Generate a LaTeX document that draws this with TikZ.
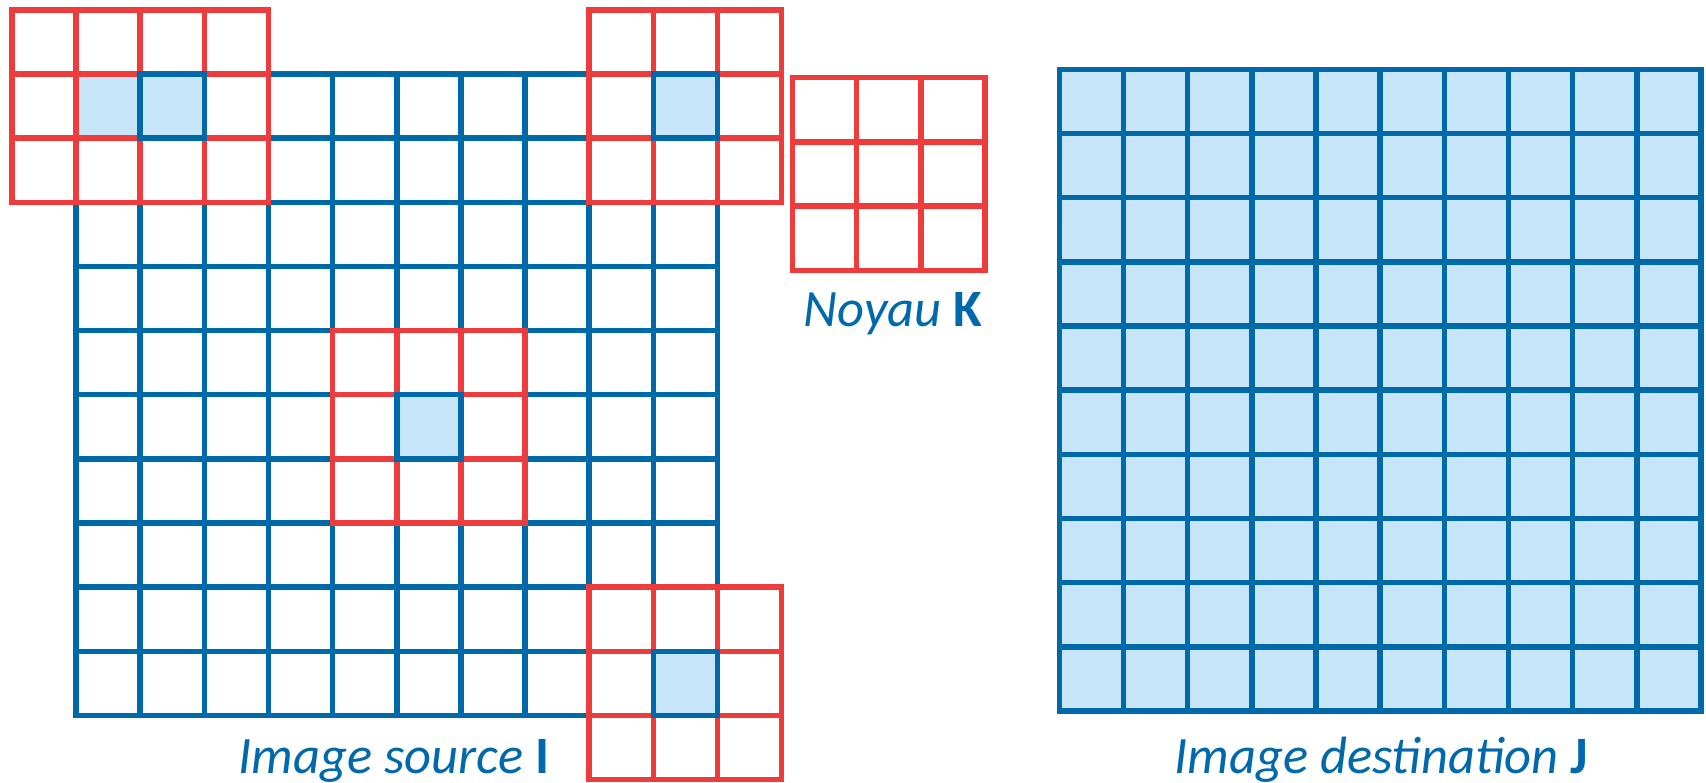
\documentclass[tikz,border=0pt]{standalone}
\usepackage{fontspec}
\setmainfont{Carlito}
\definecolor{gridblue}{HTML}{0069AA}
\definecolor{cellfill}{HTML}{C8E6FA}
\definecolor{kred}{HTML}{EE3B3B}
\definecolor{textblue}{HTML}{0068AD}
\tikzset{
  gridline/.style={draw=gridblue, line width=5.5pt, line cap=rect},
  kernelline/.style={draw=kred, line width=5.5pt, line cap=rect},
  caption/.style={text=textblue, inner sep=0pt, anchor=base, font=\fontsize{52.5}{63}\selectfont}
}
% cell size and origin of the source image grid
\def\cs{64.15}
\def\ox{76}
\def\oy{74}
% red 3-row kernel window: #1 first column, #2 first row, #3 number of columns
\newcommand\kwindow[3]{%
  \foreach \k in {0,...,#3}{
    \draw[kernelline] ({\ox+(#1+\k)*\cs},{\oy+(#2)*\cs}) -- ({\ox+(#1+\k)*\cs},{\oy+(#2+3)*\cs});
  }
  \foreach \k in {0,...,3}{
    \draw[kernelline] ({\ox+(#1)*\cs},{\oy+(#2+\k)*\cs}) -- ({\ox+(#1+#3)*\cs},{\oy+(#2+\k)*\cs});
  }
}
% shaded pixel of the source image
\newcommand\pixfill[2]{%
  \fill[cellfill] ({\ox+(#1)*\cs},{\oy+(#2)*\cs}) rectangle ({\ox+(#1+1)*\cs},{\oy+(#2+1)*\cs});
}
\newcommand\pixframe[2]{%
  \draw[gridline] ({\ox+(#1)*\cs},{\oy+(#2)*\cs}) rectangle ({\ox+(#1+1)*\cs},{\oy+(#2+1)*\cs});
}
\begin{document}
\begin{tikzpicture}[x=1pt,y=-1pt]
\useasboundingbox (0,0) rectangle (1706,783);

% source image I: shaded pixels, then the 10x10 grid
\pixfill{0}{0}
\pixfill{1}{0}
\pixfill{9}{0}
\pixfill{5}{5}
\pixfill{9}{9}
\foreach \i in {0,...,10}{
  \draw[gridline] ({\ox+\i*\cs},\oy) -- ({\ox+\i*\cs},{\oy+10*\cs});
  \draw[gridline] (\ox,{\oy+\i*\cs}) -- ({\ox+10*\cs},{\oy+\i*\cs});
}

% kernel windows laid over the source image
\kwindow{-1}{-1}{4}
\kwindow{8}{-1}{3}
\kwindow{4}{4}{3}
\kwindow{8}{8}{3}

% current pixels framed in blue
\pixframe{1}{0}
\pixframe{9}{0}
\pixframe{5}{5}
\pixframe{9}{9}

% kernel K
\def\kx{792.3}
\def\ky{77.7}
\def\kc{64.23}
\foreach \i in {0,...,3}{
  \draw[kernelline] ({\kx+\i*\kc},\ky) -- ({\kx+\i*\kc},{\ky+3*\kc});
  \draw[kernelline] (\kx,{\ky+\i*\kc}) -- ({\kx+3*\kc},{\ky+\i*\kc});
}

% destination image J
\def\dx{1059.3}
\def\dy{69.3}
\def\dc{64.17}
\fill[cellfill] (\dx,\dy) rectangle ({\dx+10*\dc},{\dy+10*\dc});
\foreach \i in {0,...,10}{
  \draw[gridline] ({\dx+\i*\dc},\dy) -- ({\dx+\i*\dc},{\dy+10*\dc});
  \draw[gridline] (\dx,{\dy+\i*\dc}) -- ({\dx+10*\dc},{\dy+\i*\dc});
}

% captions
\node[caption] (noyau) at (893,327) {\textit{Noyau} \textbf{K}};
\node[caption] (source) at (394,773) {\textit{Image source} \textbf{I}};
\node[caption] (dest) at (1381,773) {\textit{Image destination} \textbf{J}};
\end{tikzpicture}
\end{document}
